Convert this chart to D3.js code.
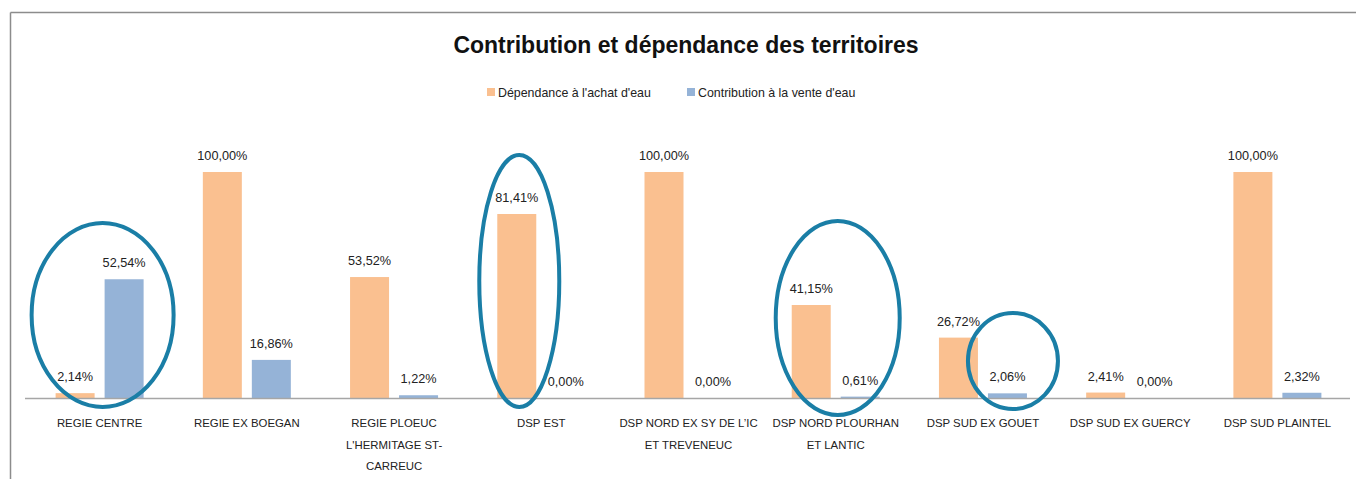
<!DOCTYPE html>
<html>
<head>
<meta charset="utf-8">
<script src="https://cdn.jsdelivr.net/npm/d3@7"></script>
<style>
  body { margin: 0; background: #fff; }
  svg { display: block; font-family: "Liberation Sans", Arial, sans-serif; }
</style>
</head>
<body>
<svg id="chart" width="1356" height="479"></svg>
<script>
// categories (label lines as shown under the axis)
const categories = [
    ["REGIE CENTRE"],
    ["REGIE EX BOEGAN"],
    ["REGIE PLOEUC", "L'HERMITAGE ST-", "CARREUC"],
    ["DSP EST"],
    ["DSP NORD EX SY DE L\u2019IC", "ET TREVENEUC"],
    ["DSP NORD PLOURHAN", "ET LANTIC"],
    ["DSP SUD EX GOUET"],
    ["DSP SUD EX GUERCY"],
    ["DSP SUD PLAINTEL"]
];
const dependance = [2.14, 100, 53.52, 81.41, 100, 41.15, 26.72, 2.41, 100];
const contribution = [52.54, 16.86, 1.22, 0, 0, 0.61, 2.06, 0, 2.32];
const seriesNames = ["D\u00e9pendance \u00e0 l'achat d'eau", "Contribution \u00e0 la vente d'eau"];
const seriesColors = ["#FAC090", "#95B3D7"];
// groups circled on the picture
const highlighted = [0, 3, 5, 6];

const svg = d3.select('#chart');

// frame of the chart area
svg.append('line').attr('x1', 10.5).attr('x2', 1356).attr('y1', 12.5).attr('y2', 12.5)
    .attr('stroke', '#8c8c8c').attr('stroke-width', 1.5);
svg.append('line').attr('x1', 10.5).attr('x2', 10.5).attr('y1', 12.5).attr('y2', 479)
    .attr('stroke', '#8c8c8c').attr('stroke-width', 1.5);

// title
svg.append('text')
    .attr('x', 686).attr('y', 53)
    .attr('text-anchor', 'middle')
    .attr('font-size', 23).attr('font-weight', 'bold')
    .attr('fill', '#111')
    .text('Contribution et d\u00e9pendance des territoires');

// legend
const legendX = [487, 687];
seriesNames.forEach((name, i) => {
    svg.append('rect').attr('x', legendX[i]).attr('y', 88).attr('width', 8).attr('height', 8)
        .attr('fill', seriesColors[i]);
    svg.append('text').attr('x', legendX[i] + 11).attr('y', 96.5)
        .attr('font-size', 12.4).attr('fill', '#222').text(name);
});

// scales
const x = d3.scaleBand().domain(d3.range(categories.length)).range([26, 1351]);
const y = d3.scaleLinear().domain([0, 100]).range([398, 172]);
const barW = 39, gap = 10;

const fr = d3.formatLocale({ decimal: ",", thousands: " ", grouping: [3], currency: ["", "€"] });
const pct = v => fr.format(".2f")(v) + "%";

const groups = svg.selectAll('g.cat')
    .data(categories.map((c, i) => ({ i, dep: dependance[i], con: contribution[i] })))
    .enter().append('g').attr('class', 'cat')
    .attr('transform', d => `translate(${x(d.i) + x.bandwidth() / 2},0)`);

groups.append('rect')
    .attr('x', -gap / 2 - barW).attr('width', barW)
    .attr('y', d => y(d.dep)).attr('height', d => y(0) - y(d.dep))
    .attr('fill', seriesColors[0]);
groups.append('rect')
    .attr('x', gap / 2).attr('width', barW)
    .attr('y', d => y(d.con)).attr('height', d => y(0) - y(d.con))
    .attr('fill', seriesColors[1]);

groups.append('text')
    .attr('x', -gap / 2 - barW / 2).attr('y', d => y(d.dep) - 12)
    .attr('text-anchor', 'middle').attr('font-size', 12.7).attr('fill', '#222')
    .text(d => pct(d.dep));
groups.append('text')
    .attr('x', gap / 2 + barW / 2).attr('y', d => y(d.con) - 12)
    .attr('text-anchor', 'middle').attr('font-size', 12.7).attr('fill', '#222')
    .text(d => pct(d.con));

// baseline
svg.append('line').attr('x1', 25).attr('x2', 1350).attr('y1', y(0) + 0.5).attr('y2', y(0) + 0.5)
    .attr('stroke', '#a6a6a6').attr('stroke-width', 1.5);

// category labels
groups.append('text')
    .attr('text-anchor', 'middle').attr('font-size', 11.4).attr('fill', '#222')
    .selectAll('tspan').data(d => categories[d.i]).enter().append('tspan')
    .attr('x', 0).attr('y', (d, k) => 427 + k * 21.5)
    .text(d => d);

// highlight ellipses (annotations drawn over the chart)
const ellipses = [
    { i: 0, dx: 3, cy: 315, rx: 71, ry: 92 },
    { i: 3, dx: -22, cy: 281, rx: 40, ry: 126 },
    { i: 5, dx: 2, cy: 318, rx: 62, ry: 97 },
    { i: 6, dx: 30, cy: 361, rx: 45, ry: 48 }
];
svg.selectAll('ellipse').data(ellipses.filter(e => highlighted.includes(e.i))).enter().append('ellipse')
    .attr('cx', d => x(d.i) + x.bandwidth() / 2 + d.dx)
    .attr('cy', d => d.cy).attr('rx', d => d.rx).attr('ry', d => d.ry)
    .attr('fill', 'none').attr('stroke', '#1a7ea6').attr('stroke-width', 4);
</script>
</body>
</html>
